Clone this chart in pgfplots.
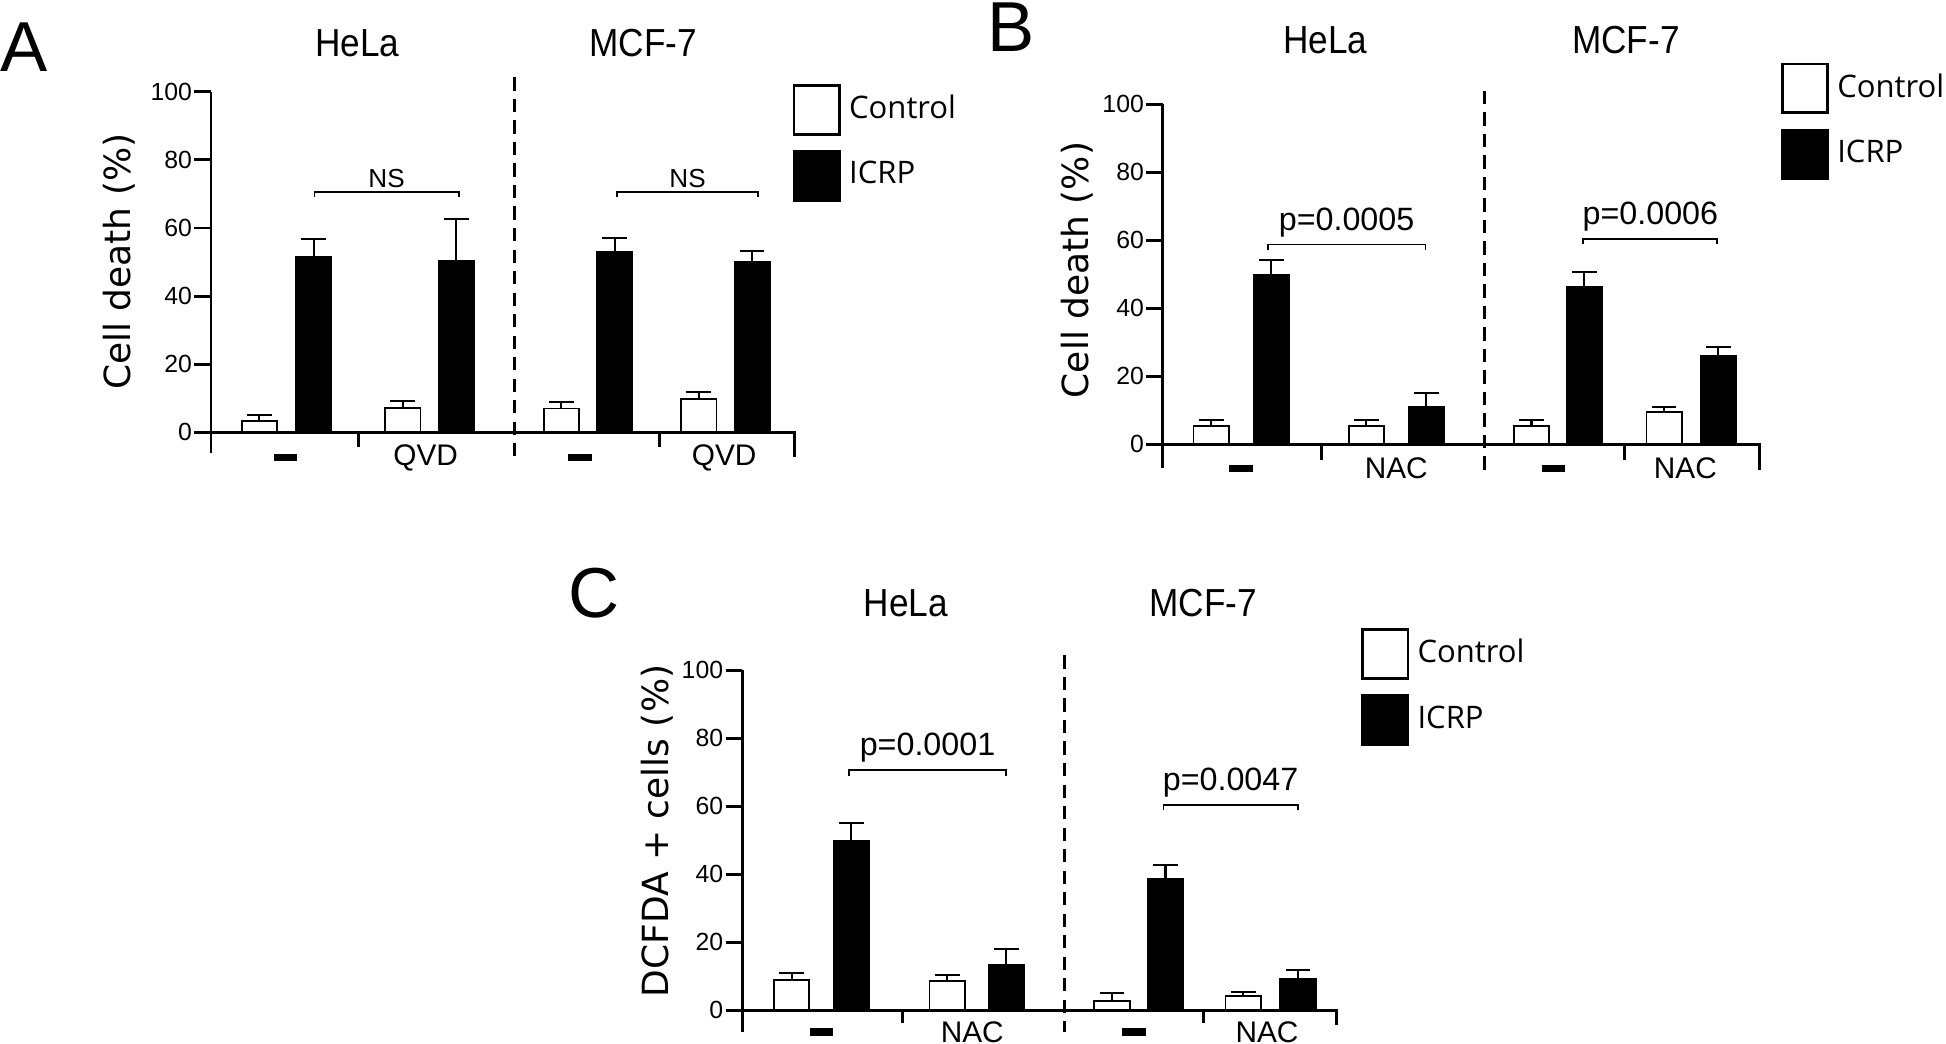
\documentclass[border=0pt]{standalone}
\usepackage{fontspec}
\setmainfont{Liberation Sans}
\newfontfamily\dejavu{DejaVu Sans}
\newfontfamily\opensans{Open Sans}
\usepackage{graphicx}
\usepackage{pgfplots}
\pgfplotsset{compat=1.18}

% 1 px of the 1568x841 view = 0.3pt
\newcommand{\ttl}[1]{\scalebox{0.9}[1]{\fontsize{9.45}{11}\selectfont #1}}
\newcommand{\dash}{\rule{5.7pt}{1.85pt}}
\newcommand{\pval}{\fontsize{7.8}{9}\selectfont}

\pgfplotsset{
  panel/.style={
    scale only axis, clip=false,
    axis lines*=left,
    x axis line style={draw=none},
    axis line style={line width=0.7pt},
    tick style={line width=0.7pt, black},
    tick align=outside,
    major tick length=4pt,
    ymax=100, ytick={0,20,...,100},
    /pgf/number format/assume math mode=true,
    yticklabel style={font=\fontsize{6}{7}\selectfont, inner sep=0.4pt},
    xtick style={draw=none},
    xticklabel style={font=\fontsize{7.2}{8}\selectfont, anchor=center},
    every axis y label/.style={rotate=90, anchor=center, font=\dejavu\fontsize{8.7}{10}\selectfont},
    legend cell align=left,
    legend style={draw=none, fill=none, inner sep=0pt, outer sep=0pt,
      anchor=north west, row sep=3.5pt, column sep=2pt,
      font=\opensans\fontsize{7.5}{9}\selectfont, nodes={inner sep=0pt}},
  },
  bars/.style={ybar, bar shift=0pt, bar width=28.4, draw=black, line width=0.45pt,
    legend image code/.code={\draw[##1, line width=0.65pt] (0pt,-5.9pt) rectangle (11pt,5.9pt);},
    error bars/y dir=plus, error bars/y explicit,
    error bars/error bar style={line width=0.5pt, black},
    error bars/error mark options={rotate=90, mark size=3pt, line width=0.5pt, black}},
}

\begin{document}
\begin{tikzpicture}
\path[use as bounding box] (0,0) rectangle (470.4pt,252.3pt);

% ---------------- A ----------------
\begin{axis}[panel,
  at={(51pt,142.68pt)}, anchor=south west,
  width=141pt, height=87.45pt,
  xmin=170, xmax=640, ymin=-6.2,
  xtick={230,343,467.5,583.5}, xticklabels={\dash,QVD,\dash,QVD},
  xticklabel style={yshift=3.0pt},
  ylabel={Cell death (\%)},
  every axis y label/.append style={at={(axis description cs:-0.157,0.530)}},
  legend style={at={(axis cs:638.7,102.26)}},
]
\addplot[fill=white, bars] coordinates {(209,3.4) +- (0,1.6) (324.6,7.1) +- (0,2.0) (452.4,7.0) +- (0,1.8) (563.1,9.8) +- (0,2.1)};
\addlegendentry{Control}
\addplot[fill=black, bars] coordinates {(252.9,51.4) +- (0,5.4) (367.6,50.4) +- (0,12.1) (495.3,52.9) +- (0,4.1) (606,49.9) +- (0,3.3)};
\addlegendentry{ICRP}
\draw[line width=0.7pt] (axis cs:170,0) -- (axis cs:640,0) -- (axis cs:640,-7.1);
\draw[line width=0.7pt] (axis cs:288.7,0) -- (axis cs:288.7,-4.2);
\draw[line width=0.7pt] (axis cs:531.2,0) -- (axis cs:531.2,-4.2);
\draw[line width=0.6pt, dash pattern=on 3.2pt off 2pt] (axis cs:414.5,104.2) -- (axis cs:414.5,-7.1);
\draw[line width=0.4pt] (axis cs:253.3,69.2) -- (axis cs:253.3,70.6) -- (axis cs:369.6,70.6) -- (axis cs:369.6,69.2);
\draw[line width=0.4pt] (axis cs:497.3,69.2) -- (axis cs:497.3,70.6) -- (axis cs:611,70.6) -- (axis cs:611,69.2);
\node[anchor=base, inner sep=0pt, font=\fontsize{6.3}{7}\selectfont] at (axis cs:311.5,72.0) {NS};
\node[anchor=base, inner sep=0pt, font=\fontsize{6.3}{7}\selectfont] at (axis cs:554,72.0) {NS};
\node[anchor=base, inner sep=0pt] at (axis cs:288,110.3) {\ttl{HeLa}};
\node[anchor=base, inner sep=0pt] at (axis cs:518.4,110.3) {\ttl{MCF-7}};
\end{axis}

% ---------------- B ----------------
\begin{axis}[panel,
  at={(281.1pt,139.07pt)}, anchor=south west,
  width=144.3pt, height=88.0pt,
  xmin=937, xmax=1418, ymin=-7.1,
  xtick={1000,1125,1251.6,1358}, xticklabels={\dash,NAC,\dash,NAC},
  xticklabel style={yshift=4pt},
  ylabel={Cell death (\%)},
  every axis y label/.append style={at={(axis description cs:-0.1435,0.545)}},
  legend style={at={(axis cs:1434.9,112.27)}},
]
\addplot[fill=white, bars] coordinates {(975.9,5.4) +- (0,1.8) (1101,5.4) +- (0,1.8) (1234,5.4) +- (0,1.8) (1340.8,9.4) +- (0,1.5)};
\addlegendentry{Control}
\addplot[fill=black, bars] coordinates {(1024.2,49.8) +- (0,4.4) (1149.3,11.1) +- (0,3.9) (1276.6,46.4) +- (0,4.2) (1384.4,26.0) +- (0,2.7)};
\addlegendentry{ICRP}
\draw[line width=0.7pt] (axis cs:937,0) -- (axis cs:1418,0) -- (axis cs:1418,-7.6);
\draw[line width=0.7pt] (axis cs:1064.8,0) -- (axis cs:1064.8,-4.6);
\draw[line width=0.7pt] (axis cs:1309,0) -- (axis cs:1309,-4.6);
\draw[line width=0.6pt, dash pattern=on 3.2pt off 2pt] (axis cs:1196.1,104) -- (axis cs:1196.1,-7.6);
\draw[line width=0.4pt] (axis cs:1021.7,57.2) -- (axis cs:1021.7,58.8) -- (axis cs:1148.5,58.8) -- (axis cs:1148.5,57.2);
\draw[line width=0.4pt] (axis cs:1275.4,58.8) -- (axis cs:1275.4,60.4) -- (axis cs:1383.4,60.4) -- (axis cs:1383.4,58.8);
\node[anchor=base, inner sep=0pt, font=\pval] at (axis cs:1085,62.8) {p=0.0005};
\node[anchor=base, inner sep=0pt, font=\pval] at (axis cs:1329.8,64.6) {p=0.0006};
\node[anchor=base, inner sep=0pt] at (axis cs:1068,115) {\ttl{HeLa}};
\node[anchor=base, inner sep=0pt] at (axis cs:1310,115) {\ttl{MCF-7}};
\end{axis}

% ---------------- C ----------------
\begin{axis}[panel,
  at={(179.4pt,2.88pt)}, anchor=south west,
  width=143.7pt, height=87.45pt,
  xmin=598, xmax=1077.2, ymin=-6.4,
  xtick={662,783.5,914,1021}, xticklabels={\dash,NAC,\dash,NAC},
  xticklabel style={yshift=4pt},
  ylabel={DCFDA + cells (\%)},
  every axis y label/.append style={at={(axis description cs:-0.143,0.555)}},
  legend style={at={(axis cs:1096.9,112.26)}},
]
\addplot[fill=white, bars] coordinates {(638,8.8) +- (0,2.0) (763.2,8.5) +- (0,1.8) (896.1,2.7) +- (0,2.2) (1001.8,4.1) +- (0,1.3)};
\addlegendentry{Control}
\addplot[fill=black, bars] coordinates {(686,49.7) +- (0,5.2) (810.9,13.4) +- (0,4.6) (939.2,38.7) +- (0,4.0) (1046,9.1) +- (0,2.7)};
\addlegendentry{ICRP}
\draw[line width=0.7pt] (axis cs:598,0) -- (axis cs:1077.2,0) -- (axis cs:1077.2,-4.4);
\draw[line width=0.7pt] (axis cs:727.3,0) -- (axis cs:727.3,-3.9);
\draw[line width=0.7pt] (axis cs:970.1,0) -- (axis cs:970.1,-3.9);
\draw[line width=0.6pt, dash pattern=on 3.2pt off 2pt] (axis cs:858,104.3) -- (axis cs:858,-6.4);
\draw[line width=0.4pt] (axis cs:684,68.9) -- (axis cs:684,70.6) -- (axis cs:810.8,70.6) -- (axis cs:810.8,68.9);
\draw[line width=0.4pt] (axis cs:937.6,58.7) -- (axis cs:937.6,60.3) -- (axis cs:1045.8,60.3) -- (axis cs:1045.8,58.7);
\node[anchor=base, inner sep=0pt, font=\pval] at (axis cs:747.4,74.8) {p=0.0001};
\node[anchor=base, inner sep=0pt, font=\pval] at (axis cs:991.7,64.6) {p=0.0047};
\node[anchor=base, inner sep=0pt] at (axis cs:730,115.7) {\ttl{HeLa}};
\node[anchor=base, inner sep=0pt] at (axis cs:969.7,115.7) {\ttl{MCF-7}};
\end{axis}

% panel letters
\node[anchor=base west, inner sep=0pt, font=\fontsize{17.1}{20}\selectfont] at (0pt,234.96pt) {A};
\node[anchor=base west, inner sep=0pt, font=\fontsize{17.1}{20}\selectfont] at (238.6pt,239.8pt) {B};
\node[anchor=base west, inner sep=0pt, font=\fontsize{17.1}{20}\selectfont] at (137.1pt,103.05pt) {C};
\end{tikzpicture}
\end{document}
